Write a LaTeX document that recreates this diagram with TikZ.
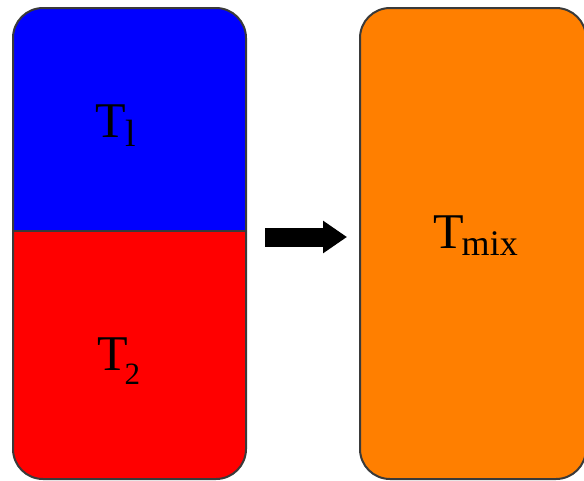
\documentclass[tikz,border=0pt]{standalone}
\usepackage{fontspec}
\setmainfont{Liberation Serif}
\usetikzlibrary{arrows.meta,positioning}
\definecolor{hotblue}{HTML}{0000FF}
\definecolor{hotred}{HTML}{FF0000}
\definecolor{mixorange}{HTML}{FF7F00}
\definecolor{edge}{HTML}{3A3A3A}

\begin{document}
\begin{tikzpicture}[x=1pt, y=-1pt,
  tank/.style={rectangle, rounded corners=30pt, draw=edge, line width=2pt,
               inner sep=0pt, outer sep=0pt, minimum height=471pt},
  lbl/.style={anchor=base west, inner sep=0pt, font=\fontsize{50}{60}\selectfont},
  arr/.style={-{Triangle[length=24pt,width=31pt]}, line width=19pt}
]
\useasboundingbox (0,0) rectangle (584,480);
\node[tank, minimum width=233pt,
  path picture={
    \fill[hotred, sharp corners] (path picture bounding box.south west) rectangle ([yshift=12.5pt]path picture bounding box.east);
    \fill[hotblue, sharp corners] (path picture bounding box.north west) rectangle ([yshift=12.5pt]path picture bounding box.east);
  }] (pair) at (129.5,243.5) {};
\draw[edge, line width=2pt] ([yshift=12.5pt]pair.west) -- ([yshift=12.5pt]pair.east);
\node[tank, fill=mixorange, minimum width=226pt, right=114pt of pair] (mix) {};
% labels
\node[lbl] (top) at (95,137) {T\raisebox{-9pt}{\fontsize{38}{40}\selectfont l}};
\node[lbl] (bottom) at (97,370) {T\kern-3pt\raisebox{-14pt}{\fontsize{31}{34}\selectfont 2}};
\node[lbl] (result) at (433,248) {T\kern-2pt\raisebox{-7pt}{\fontsize{36}{40}\selectfont mix}};
\draw[arr] ([xshift=19pt,yshift=6.5pt]pair.east) -- ([xshift=-13pt,yshift=6.5pt]mix.west);
\end{tikzpicture}
\end{document}
